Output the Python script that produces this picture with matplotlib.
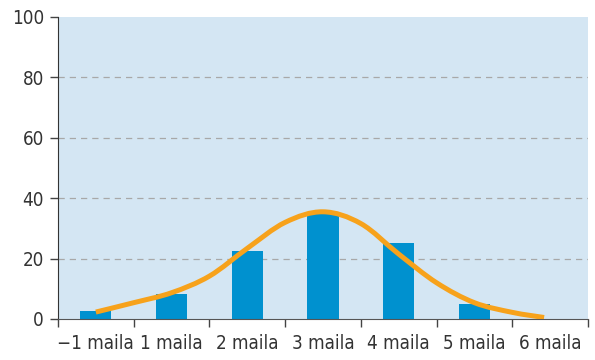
import numpy as np
import matplotlib.pyplot as plt
from matplotlib.path import Path
from matplotlib.patches import PathPatch

plt.rcParams['font.family'] = ['DejaVu Sans']
plt.rcParams['font.stretch'] = 'condensed'

# data
categories = ['\u22121 maila', '1 maila', '2 maila', '3 maila', '4 maila', '5 maila', '6 maila']
bar_values = [2.6, 8.3, 22.5, 34.7, 25.2, 5.0, 0]
curve_x = [0, 0.5, 1, 1.5, 2, 2.5, 3, 3.5, 4, 4.5, 5, 5.5, 5.92]
curve_y = [2.3, 5.4, 8.7, 14.2, 23.4, 32.0, 35.5, 31.6, 21.5, 12.0, 5.4, 2.2, 0.5]

bar_color = '#0091cf'
line_color = '#f7a21b'
bg_color = '#d4e6f3'


def smooth_path(xs, ys):
    # catmull-rom through the points, drawn as cubic beziers
    pts = np.column_stack([xs, ys])
    verts = [pts[0]]
    codes = [Path.MOVETO]
    for i in range(len(pts) - 1):
        p0 = pts[i - 1] if i > 0 else pts[i]
        p1 = pts[i]
        p2 = pts[i + 1]
        p3 = pts[i + 2] if i + 2 < len(pts) else pts[i + 1]
        c1 = p1 + (p2 - p0) / 6.0
        c2 = p2 - (p3 - p1) / 6.0
        verts += [c1, c2, p2]
        codes += [Path.CURVE4] * 3
    return Path(verts, codes)


fig = plt.figure(figsize=(5.95, 3.6), dpi=100)
ax = fig.add_axes([58 / 595, 41 / 360, 530 / 595, 302 / 360])
ax.set_facecolor(bg_color)

x = np.arange(len(categories))
ax.bar(x, bar_values, width=0.41, color=bar_color, zorder=2)
ax.add_patch(PathPatch(smooth_path(curve_x, curve_y), fill=False, edgecolor=line_color,
                       lw=3.6, capstyle='butt', zorder=3))

ax.set_xlim(-0.5, len(categories) - 0.5)
ax.set_ylim(0, 100)
ax.set_yticks([0, 20, 40, 60, 80, 100])
ax.yaxis.grid(True, linestyle=(0, (5, 4)), color='#a8a8a8', lw=0.9, zorder=1)
ax.set_axisbelow(True)
gl = ax.yaxis.get_gridlines()
gl[0].set_visible(False)
gl[-1].set_visible(False)

fs = 13.5
ax.set_xticks(np.arange(-0.5, len(categories)), labels=[])
ax.set_xticks(x, labels=categories, minor=True)
ax.tick_params(axis='x', which='major', length=6, width=1, color='#444444')
ax.tick_params(axis='x', which='minor', length=0, labelsize=fs, pad=11, labelcolor='#333333')
ax.tick_params(axis='y', length=6, width=1, color='#444444', labelsize=fs, pad=4, labelcolor='#333333')

for s in ['top', 'right']:
    ax.spines[s].set_visible(False)
ax.spines['left'].set_color('#333333')
ax.spines['bottom'].set_color('#555555')

fig.savefig('out.png', dpi=100)
